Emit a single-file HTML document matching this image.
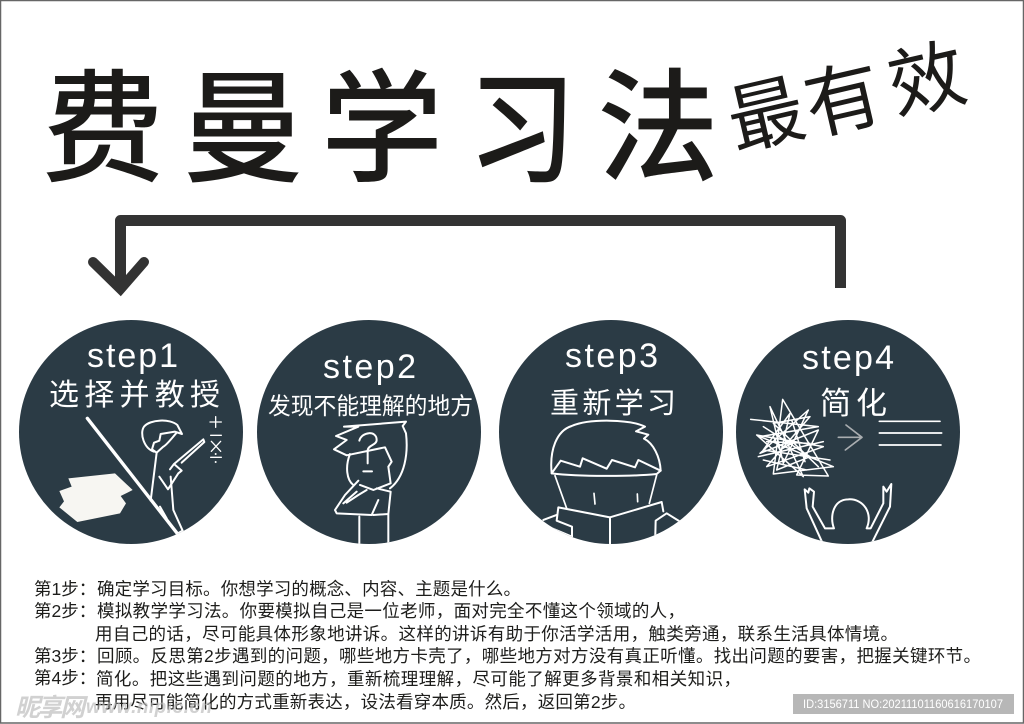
<!DOCTYPE html>
<html><head><meta charset="utf-8"><style>
html,body{margin:0;padding:0;background:#fff}
svg{display:block}
.cjk{font-family:"Liberation Sans","Noto Sans CJK SC",sans-serif}
</style></head><body>
<svg width="1024" height="724" viewBox="0 0 1024 724" xmlns="http://www.w3.org/2000/svg" class="cjk">
<defs>
<clipPath id="c1"><circle cx="393" cy="366" r="336"/></clipPath>
<clipPath id="c2"><circle cx="1107" cy="366" r="336"/></clipPath>
<clipPath id="c3"><circle cx="363" cy="366" r="336"/></clipPath>
<clipPath id="c4"><circle cx="1074" cy="366" r="336"/></clipPath>
</defs>
<rect x="0.5" y="0.5" width="1023" height="722.5" fill="#fff" stroke="#666" stroke-width="1.5"/>

<g fill="#1c1b19" font-size="122" font-weight="500" text-anchor="middle">
<text x="103" y="172">费</text>
<text x="243" y="172">曼</text>
<text x="382" y="172">学</text>
<text transform="translate(522,173) scale(.88,1)">习</text>
<text x="658" y="171">法</text>
</g>
<g fill="#1c1b19" font-size="76" text-anchor="middle">
<text transform="translate(772,141) rotate(-13)">最</text>
<text transform="translate(849,126) rotate(-13)">有</text>
<text transform="translate(933,106) rotate(-13)">效</text>
</g>

<path d="M840.5 288V220.500H120.500V290" fill="none" stroke="#333" stroke-width="11" stroke-linejoin="round"/>
<path d="M93 262L120.500 289L144 262" fill="none" stroke="#333" stroke-width="10" stroke-linecap="round" stroke-linejoin="miter"/>

<g fill="#2b3b45">
<circle cx="131" cy="432" r="112"/>
<circle cx="369" cy="432" r="112"/>
<circle cx="611" cy="432" r="112"/>
<circle cx="848" cy="432" r="112"/>
</g>

<g fill="#fff" font-size="34" text-anchor="start">
<text x="87" y="367" textLength="91">step1</text>
<text x="323" y="378" textLength="93">step2</text>
<text x="565" y="367" textLength="93">step3</text>
<text x="802" y="369" textLength="92">step4</text>
</g>
<g fill="#fff">
<text x="49" y="405" font-size="30" textLength="171">选择并教授</text>
<text x="268" y="414" font-size="23.500" textLength="205" lengthAdjust="spacingAndGlyphs">发现不能理解的地方</text>
<text x="550" y="413" font-size="29" textLength="126">重新学习</text>
<text x="820" y="414" font-size="31" textLength="67">简化</text>
</g>

<!-- step 1 + 2 art -->
<g transform="translate(0,310) scale(.33333)" fill="none" stroke="#fff" stroke-width="6" stroke-linejoin="round" stroke-linecap="round">
<g clip-path="url(#c1)">
<path d="M262 325L530 668" stroke-width="10"/>
<path d="M205 505L345 490L398 540L362 558L378 580L360 610L232 636L178 592L192 574L178 543L215 530Z" fill="#f7f6f2" stroke="none"/>
<path d="M462 425C432 415 418 370 432 350C450 328 510 325 532 345L546 372L525 365L482 372L478 392L462 398L456 418L470 428L490 410C500 405 515 385 530 368"/>
<path d="M470 428L452 572M478 500L504 538L535 490L545 482L522 462L510 478M522 462L610 388L613 396L545 458"/>
<path d="M512 500L520 600L548 662L530 672M480 590L500 625"/>
<path d="M630 336H664M647 320V352M632 376H664M634 394L662 424M662 394L634 424M632 442H664" stroke-width="4"/>
<circle cx="647" cy="432" r="3" fill="#fff" stroke="none"/><circle cx="647" cy="456" r="3" fill="#fff" stroke="none"/>
</g>
<g clip-path="url(#c2)">
<path d="M1050 432C1035 470 1040 510 1060 525M1032 350L1218 335L1208 348L1218 370C1225 430 1215 500 1170 535M1032 350L1075 350L1008 378L1040 390L1002 418L1040 436L1155 412L1175 455L1165 470L1172 520L1120 540L1080 525"/>
<path d="M1078 392C1085 365 1130 360 1130 390C1130 405 1105 405 1103 420V460M1090 484H1116"/>
<path d="M1075 512L1035 555L1005 600L1010 610L1115 615L1135 570M1040 578L1075 555L1100 540M1030 580L1070 545M1078 620V703M1165 610V703M1120 615L1165 612L1172 545L1130 535"/>
</g>
</g>

<!-- step 3 + 4 art -->
<g transform="translate(490,310) scale(.33333)" fill="none" stroke="#fff" stroke-width="6" stroke-linejoin="round" stroke-linecap="round">
<g clip-path="url(#c3)">
<path d="M185 490C178 420 200 362 245 348C300 325 420 328 465 350L438 364L475 374L462 386C490 400 510 440 512 482"/>
<path d="M185 490L212 452L270 470L278 445L350 476L366 450L435 472L445 450L512 482L500 492C420 500 270 500 185 490Z"/>
<path d="M195 497L230 595M500 495L478 580M312 550L315 582M442 552L443 575" stroke-width="5"/>
<path d="M205 592L360 622L515 576L520 604M205 592L200 632L246 650V710M360 622V710M160 630L200 615M495 710L497 632L530 610L572 636M150 640L246 680"/>
</g>
<g clip-path="url(#c4)">
<path d="M782 328L985 350L810 380L1030 470L850 492L878 268L1015 498L920 495L985 360L810 430L955 300L880 460L840 290L940 500L800 375L1000 410L830 470L960 320L850 340L985 470M805 440L1000 395M820 450L950 480M905 400L870 420L850 380M830 395L960 400M905 330L945 455M820 350L960 440L860 480L900 310L820 420L1020 450" stroke-width="4.500"/>
<path d="M1045 382H1115M1068 345L1116 382L1066 420" stroke="#a9adb0" stroke-width="5"/>
<path d="M1168 334H1350M1168 369H1355M1168 405H1353" stroke-width="5"/>
<path d="M998 700L950 595L944 538L955 548L958 535L972 545L968 590L1005 655H1032C1018 620 1030 568 1075 568C1120 565 1150 610 1130 655H1142L1180 580V530L1190 545L1204 522L1200 590L1145 700"/>
</g>
</g>

<g fill="#1d1d1b" font-size="17.500">
<text x="34" y="595">第1步：</text>
<text x="34" y="617">第2步：</text>
<text x="34" y="662">第3步：</text>
<text x="34" y="684">第4步：</text>
<text x="97" y="595" textLength="424" lengthAdjust="spacing">确定学习目标。你想学习的概念、内容、主题是什么。</text>
<text x="97" y="617" textLength="588" lengthAdjust="spacing">模拟教学学习法。你要模拟自己是一位老师，面对完全不懂这个领域的人，</text>
<text x="95" y="640" textLength="803" lengthAdjust="spacing">用自己的话，尽可能具体形象地讲诉。这样的讲诉有助于你活学活用，触类旁通，联系生活具体情境。</text>
<text x="97" y="662" textLength="884" lengthAdjust="spacing">回顾。反思第2步遇到的问题，哪些地方卡壳了，哪些地方对方没有真正听懂。找出问题的要害，把握关键环节。</text>
<text x="96" y="685" textLength="645" lengthAdjust="spacing">简化。把这些遇到问题的地方，重新梳理理解，尽可能了解更多背景和相关知识，</text>
<text x="95" y="708" textLength="541" lengthAdjust="spacing">再用尽可能简化的方式重新表达，设法看穿本质。然后，返回第2步。</text>
</g>

<text x="15" y="716" font-size="25" font-style="italic" font-weight="700" fill="#b8b8b8" fill-opacity=".65" textLength="70">昵享网</text>
<text x="86" y="713" font-size="19" font-style="italic" font-weight="700" fill="#b8b8b8" fill-opacity=".65" textLength="126">www.nipic.cn</text>
<rect x="793" y="694" width="221" height="20" fill="#b7b7b7"/>
<text x="803" y="708" font-size="11.500" fill="#fff" textLength="200" lengthAdjust="spacingAndGlyphs">ID:3156711 NO:20211101160616170107</text>
</svg>
</body></html>
